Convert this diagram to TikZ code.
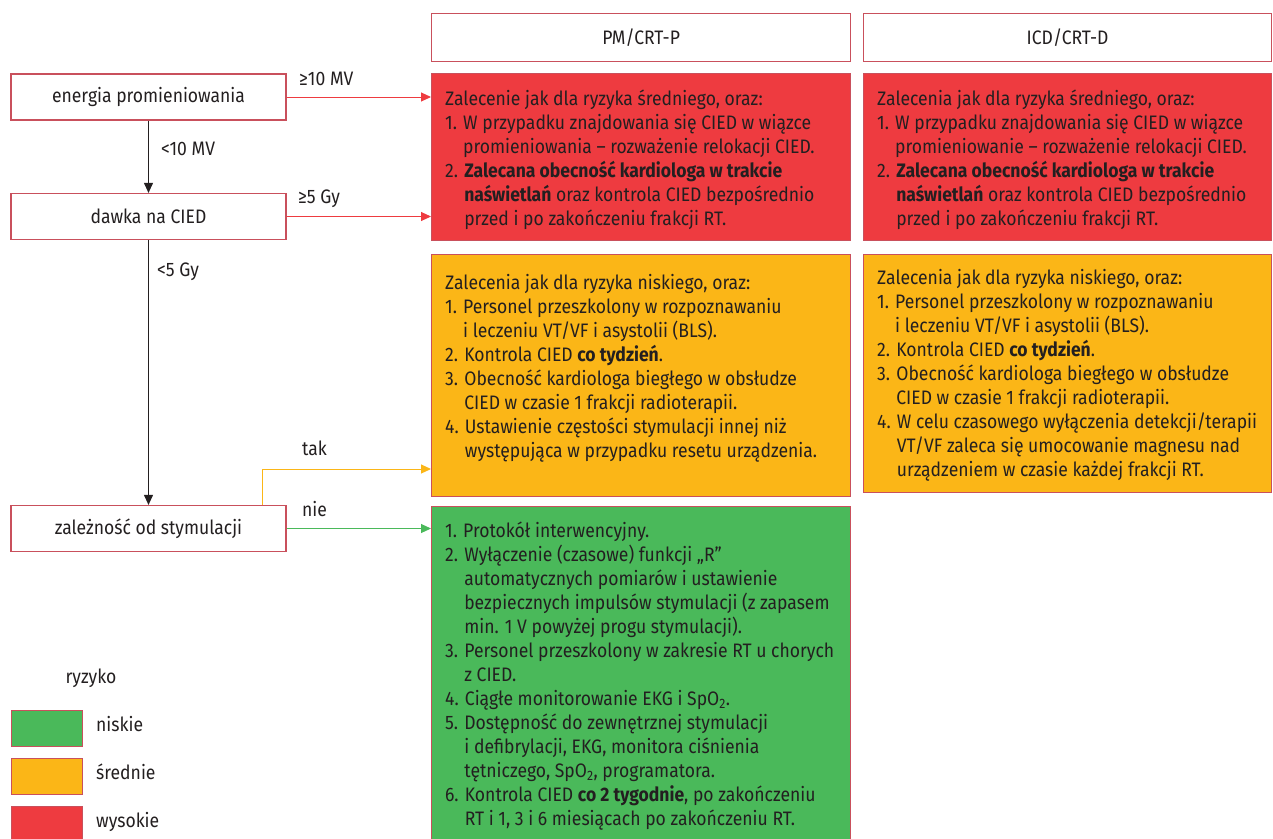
\documentclass[tikz,border=0pt]{standalone}
\usepackage{fontspec}
\setmainfont{Fira Sans}[FakeStretch=0.9]
\usetikzlibrary{arrows.meta}
\definecolor{rd}{HTML}{EE3B40}
\definecolor{og}{HTML}{FBB617}
\definecolor{gn}{HTML}{4AB95A}
\definecolor{bd}{HTML}{C9505C}
\definecolor{tx}{HTML}{231F20}
\begin{document}
\begin{tikzpicture}[x=1pt,y=-1pt,
  every node/.style={text=tx},
  base/.style={font=\fontsize{19.5}{24}\selectfont},
  lbox/.style={base,draw=bd,line width=1.2pt,fill=white,minimum width=275pt,minimum height=46pt,inner sep=0pt},
  hbox/.style={base,draw=bd,line width=1.2pt,fill=white,minimum height=48pt,inner sep=0pt,anchor=north west},
  cbox/.style={draw=bd,line width=1.2pt,inner sep=0pt,anchor=north west},
  txt/.style={base,align=left,inner sep=0pt,anchor=north west},
  lab/.style={base,inner sep=0pt,anchor=base west},
  conn/.style={line width=1pt,-{Triangle[length=10pt,width=9pt]}},
]
\useasboundingbox (0,0) rectangle (1273,838);

% left decision boxes
\node[lbox] (en) at (148.5,97) {energia promieniowania};
\node[lbox] (da) at (148.5,216.5) {dawka na CIED};
\node[lbox] (za) at (148.5,528.5) {zależność od stymulacji};

% headers
\node[hbox,minimum width=419pt] (h1) at (431,13) {PM/CRT-P};
\node[hbox,minimum width=408pt] (h2) at (863,13) {ICD/CRT-D};

% coloured boxes
\node[cbox,fill=rd,minimum width=419pt,minimum height=167pt] (r1) at (431,73) {};
\node[cbox,fill=rd,minimum width=408pt,minimum height=167pt] (r2) at (863,73) {};
\node[cbox,fill=og,minimum width=419pt,minimum height=242pt] (o1) at (431,254) {};
\node[cbox,fill=og,minimum width=408pt,minimum height=238pt] (o2) at (863,254) {};
\node[cbox,fill=gn,minimum width=419pt,minimum height=345pt] (g1) at (431,506) {};

% texts
\node[txt] (r1t) at (445,88) {\strut Zalecenie jak dla ryzyka średniego, oraz:\\
1. W przypadku znajdowania się CIED w wiązce\\
\hphantom{1. }promieniowania – rozważenie relokacji CIED.\\
2. \textbf{Zalecana obecność kardiologa w trakcie}\\
\hphantom{2. }\textbf{naświetlań} oraz kontrola CIED bezpośrednio\\
\hphantom{2. }przed i po zakończeniu frakcji RT.};

\node[txt] (r2t) at (877,88) {\strut Zalecenia jak dla ryzyka średniego, oraz:\\
1. W przypadku znajdowania się CIED w wiązce\\
\hphantom{1. }promieniowanie – rozważenie relokacji CIED.\\
2. \textbf{Zalecana obecność kardiologa w trakcie}\\
\hphantom{2. }\textbf{naświetlań} oraz kontrola CIED bezpośrednio\\
\hphantom{2. }przed i po zakończeniu frakcji RT.};

\node[txt] (o1t) at (445,272) {\strut Zalecenia jak dla ryzyka niskiego, oraz:\\
1. Personel przeszkolony w rozpoznawaniu\\
\hphantom{1. }i leczeniu VT/VF i asystolii (BLS).\\
2. Kontrola CIED \textbf{co tydzień}.\\
3. Obecność kardiologa biegłego w obsłudze\\
\hphantom{3. }CIED w czasie 1 frakcji radioterapii.\\
4. Ustawienie częstości stymulacji innej niż\\
\hphantom{4. }występująca w przypadku resetu urządzenia.};

\node[txt] (o2t) at (877,267) {\strut Zalecenia jak dla ryzyka niskiego, oraz:\\
1. Personel przeszkolony w rozpoznawaniu\\
\hphantom{1. }i leczeniu VT/VF i asystolii (BLS).\\
2. Kontrola CIED \textbf{co tydzień}.\\
3. Obecność kardiologa biegłego w obsłudze\\
\hphantom{3. }CIED w czasie 1 frakcji radioterapii.\\
4. W celu czasowego wyłączenia detekcji/terapii\\
\hphantom{4. }VT/VF zaleca się umocowanie magnesu nad\\
\hphantom{4. }urządzeniem w czasie każdej frakcji RT.};

\node[txt] (g1t) at (445,520) {\strut 1. Protokół interwencyjny.\\
2. Wyłączenie (czasowe) funkcji „R”\\
\hphantom{2. }automatycznych pomiarów i ustawienie\\
\hphantom{2. }bezpiecznych impulsów stymulacji (z zapasem\\
\hphantom{2. }min. 1 V powyżej progu stymulacji).\\
3. Personel przeszkolony w zakresie RT u chorych\\
\hphantom{3. }z CIED.\\
4. Ciągłe monitorowanie EKG i SpO\textsubscript{2}.\\
5. Dostępność do zewnętrznej stymulacji\\
\hphantom{5. }i defibrylacji, EKG, monitora ciśnienia\\
\hphantom{5. }tętniczego, SpO\textsubscript{2}, programatora.\\
6. Kontrola CIED \textbf{co 2 tygodnie}, po zakończeniu\\
\hphantom{6. }RT i 1, 3 i 6 miesiącach po zakończeniu RT.};

% connectors
\draw[conn,tx] (en.south) -- (da.north);
\draw[conn,tx] (da.south) -- (za.north);
\draw[conn,rd] (en.east) -- (en.east -| r1.west);
\draw[conn,rd] (da.east) -- (da.east -| r1.west);
\coordinate (tk) at (262,469);
\draw[conn,og] (za.north -| tk) -- (tk) -- (tk -| o1.west);
\draw[conn,gn] (za.east) -- (za.east -| g1.west);

% labels
\node[lab] (l1) at (299,85) {≥10 MV};
\node[lab] (l2) at (161,155) {<10 MV};
\node[lab] (l3) at (298,203) {≥5 Gy};
\node[lab] (l4) at (157,276) {<5 Gy};
\node[lab] (l5) at (302,455) {tak};
\node[lab] (l6) at (302,516) {nie};

% legend
\node[base,inner sep=0pt,anchor=base] (lg) at (91,683) {ryzyko};
\node[cbox,fill=gn,minimum width=71pt,minimum height=36pt] (k1) at (11,710) {};
\node[cbox,fill=og,minimum width=71pt,minimum height=36pt] (k2) at (11,758) {};
\node[cbox,fill=rd,minimum width=71pt,minimum height=36pt] (k3) at (11,806) {};
\node[lab] (k1t) at (96,731) {niskie};
\node[lab] (k2t) at (96,779) {średnie};
\node[lab] (k3t) at (96,827) {wysokie};
\end{tikzpicture}
\end{document}
